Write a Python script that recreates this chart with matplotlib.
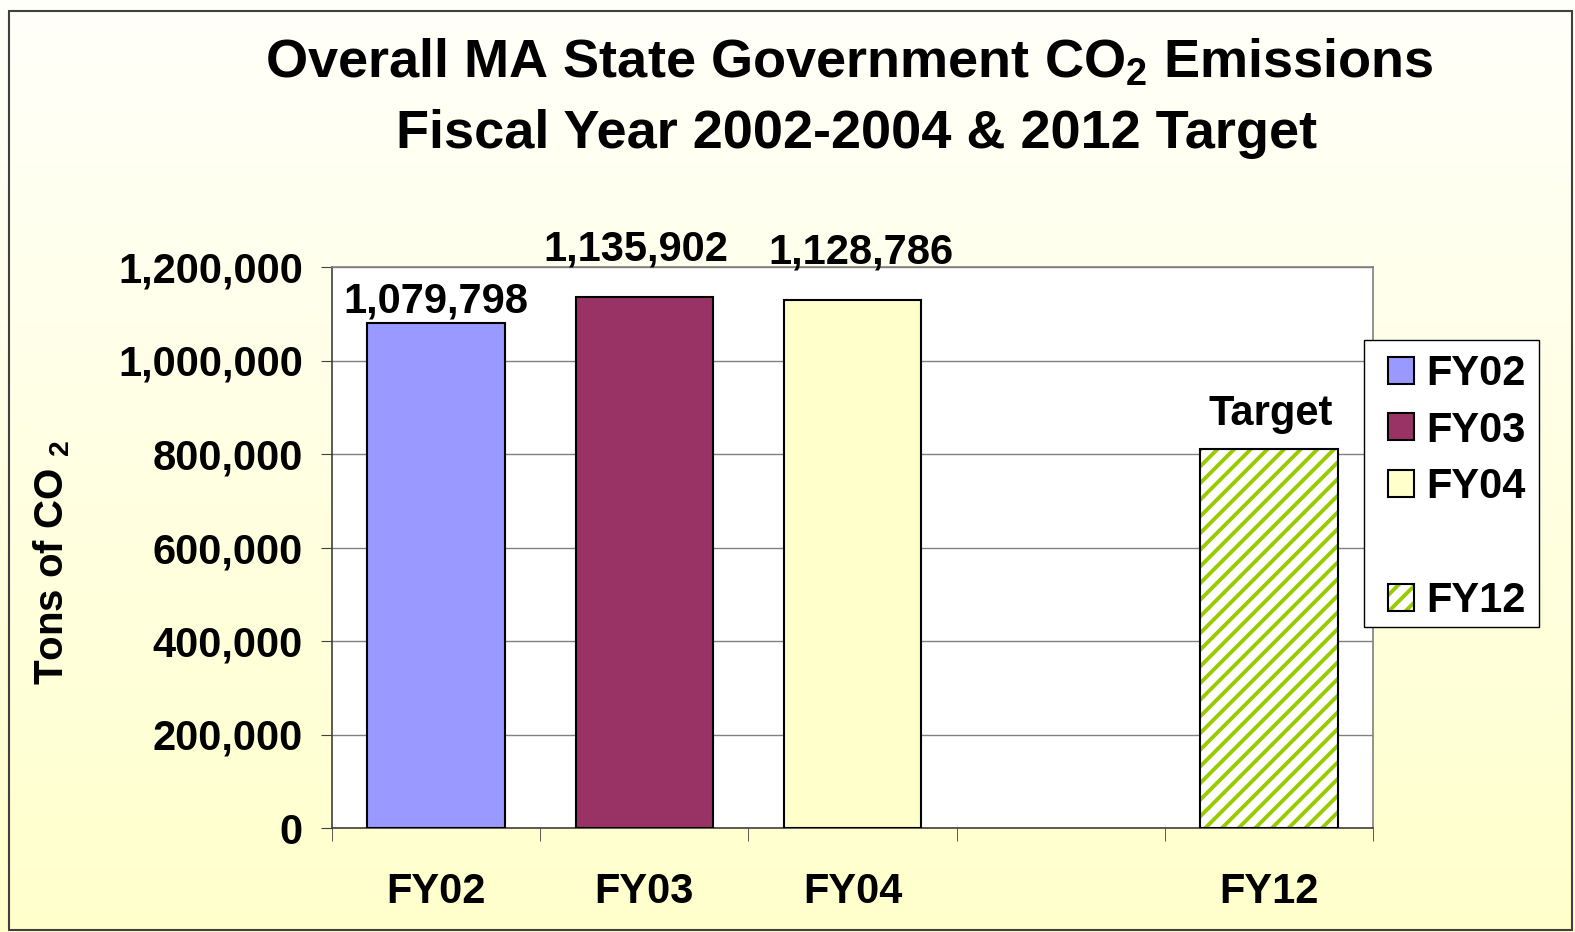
import numpy as np
import matplotlib
matplotlib.use("Agg")
import matplotlib.pyplot as plt
from matplotlib.colors import LinearSegmentedColormap
from matplotlib.patches import Rectangle
from matplotlib.legend_handler import HandlerTuple

plt.rcParams['font.family'] = ['Liberation Sans', 'DejaVu Sans']
plt.rcParams['font.weight'] = 'bold'
plt.rcParams['mathtext.fontset'] = 'custom'
plt.rcParams['mathtext.rm'] = 'Liberation Sans:bold'
plt.rcParams['mathtext.it'] = 'Liberation Sans:bold'
plt.rcParams['mathtext.bf'] = 'Liberation Sans:bold'
plt.rcParams['hatch.linewidth'] = 2.8

# data
categories = ["FY02", "FY03", "FY04", "", "FY12"]
years = ["FY02", "FY03", "FY04", "FY12"]
slots = [0, 1, 2, 4]
emissions = [1079798, 1135902, 1128786, 809849]
labels = ["1,079,798", "1,135,902", "1,128,786", "Target"]
colors = ["#9999FF", "#993366", "#FFFFCC", "#99CC00"]
# label offsets in points (x, y) as placed in the original
label_off = [(0, 1), (-6, 20), (6, 20), (1, 11)]

FS = 30

fig = plt.figure(figsize=(15.75, 9.32), dpi=100)

# background gradient
bg = fig.add_axes([0, 0, 1, 1], zorder=-5)
grad = np.linspace(0, 1, 256).reshape(-1, 1)
cmap = LinearSegmentedColormap.from_list("bg", ["#FFFFFA", "#FFFFCC"])
bg.imshow(grad, aspect="auto", cmap=cmap, extent=[0, 1, 0, 1], origin="upper")
bg.set_xlim(0, 1)
bg.set_ylim(0, 1)
bg.axis("off")
fig.patches.append(Rectangle((9 / 1575, 2 / 932), 1563 / 1575, 919 / 932,
                             transform=fig.transFigure, fill=False,
                             edgecolor="#404040", lw=1.5, zorder=10))

ax = fig.add_axes([332 / 1575, 1 - 828 / 932, 1041 / 1575, 561 / 932])
ax.set_facecolor("white")

handles = []
for i in range(4):
    x = slots[i]
    if years[i] == "FY12":
        b1 = ax.bar(x, emissions[i], width=0.66, color="white",
                    edgecolor=colors[i], hatch="//", linewidth=0, zorder=3)
        b2 = ax.bar(x, emissions[i], width=0.66, fill=False,
                    edgecolor="black", linewidth=1.5, zorder=4)
        handles.append((b1[0], b2[0]))
    else:
        b = ax.bar(x, emissions[i], width=0.66, color=colors[i],
                   edgecolor="black", linewidth=1.5, zorder=3)
        handles.append(b[0])
    ax.annotate(labels[i], (x, emissions[i]), xytext=label_off[i],
                textcoords="offset points", ha="center", va="bottom",
                fontsize=FS, fontweight="bold", annotation_clip=False)

ax.set_xlim(-0.5, 4.5)
ax.set_ylim(0, 1200000)
ax.set_yticks(np.arange(0, 1200001, 200000))
ax.set_yticklabels(["{:,}".format(v) for v in range(0, 1200001, 200000)],
                   fontsize=FS, fontweight="bold")
ax.yaxis.grid(True, color="#808080", lw=1, zorder=0)
ax.set_axisbelow(True)
ax.tick_params(axis="y", length=8, pad=13, color="#404040")

ax.set_xticks(range(5))
ax.set_xticklabels(categories, fontsize=FS, fontweight="bold")
ax.set_xticks(np.arange(-0.5, 4.6, 1), minor=True)
ax.tick_params(axis="x", which="major", length=0, pad=32)
ax.tick_params(axis="x", which="minor", length=9, color="#404040")

for s in ax.spines.values():
    s.set_color("#808080")
    s.set_linewidth(1.2)
ax.spines["left"].set_color("#404040")
ax.spines["bottom"].set_color("#404040")

ax.set_ylabel(r"Tons of CO $_2$", fontsize=29, fontweight="bold")
ax.yaxis.set_label_coords(-0.25, 0.474)

fig.text(849 / 1575, 1 - 63 / 932, r"Overall MA State Government CO$_2$ Emissions",
         ha="center", va="center", fontsize=39, fontweight="bold")
fig.text(857 / 1575, 1 - 134 / 932, "Fiscal Year 2002-2004 & 2012 Target",
         ha="center", va="center", fontsize=39, fontweight="bold")

# legend with an empty row before FY12, frame drawn separately
blank = Rectangle((0, 0), 1, 1, fill=False, edgecolor="none", visible=False)
leg_handles = handles[:3] + [blank] + [handles[3]]
leg_labels = years[:3] + [""] + [years[3]]
leg = fig.legend(leg_handles, leg_labels, loc="upper left",
                 bbox_to_anchor=(1388 / 1575, 1 - 354 / 932),
                 borderaxespad=0, borderpad=0, prop={"weight": "bold", "size": FS},
                 frameon=False,
                 handlelength=0.62, handleheight=0.62, handletextpad=0.3,
                 labelspacing=0.40,
                 handler_map={tuple: HandlerTuple(ndivide=1, pad=0)})
fig.patches.append(Rectangle((1364 / 1575, 1 - 627 / 932), 175 / 1575, 287 / 932,
                             transform=fig.transFigure, facecolor="white",
                             edgecolor="black", lw=1, zorder=2))
leg.set_zorder(5)

fig.savefig("out.png", dpi=100)
